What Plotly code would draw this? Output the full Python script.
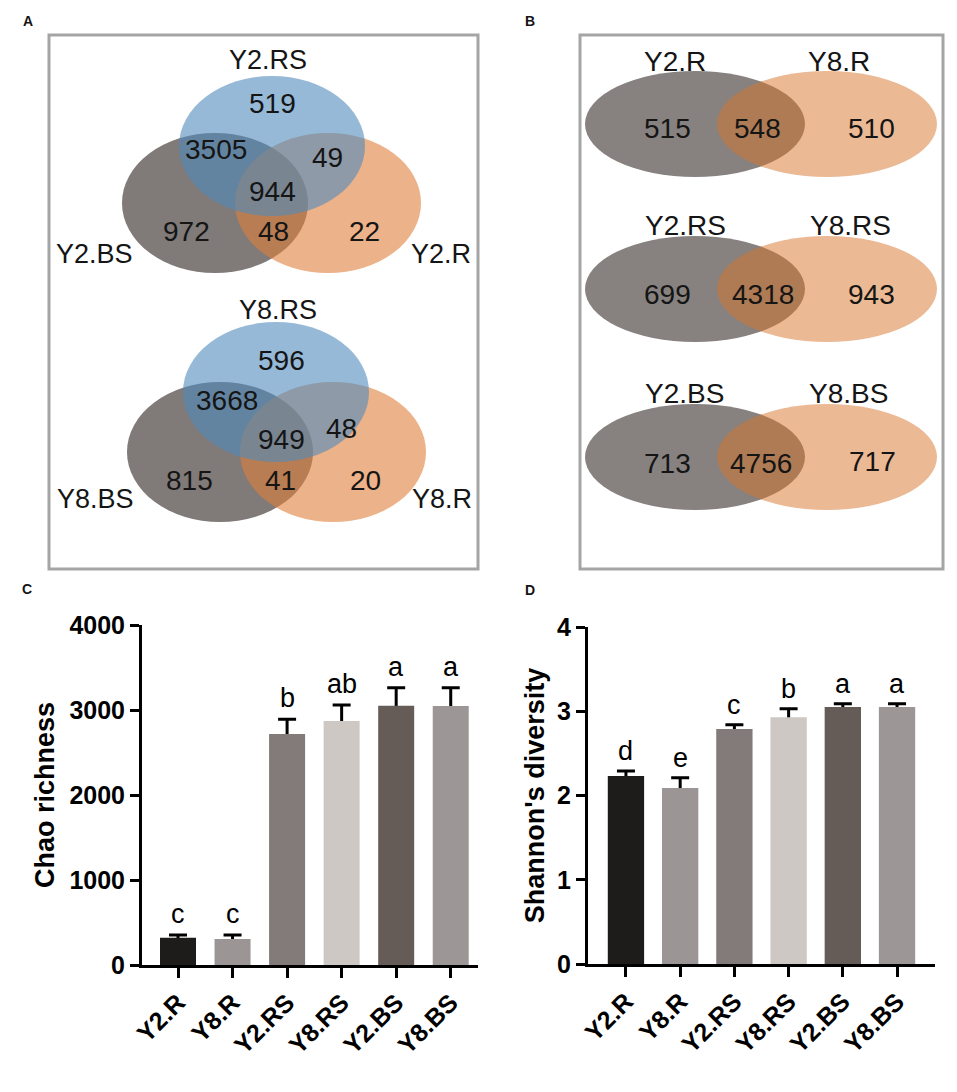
import plotly.graph_objects as go

# ---- data ----
groups = ["Y2.R", "Y8.R", "Y2.RS", "Y8.RS", "Y2.BS", "Y8.BS"]
chao_mean = [321, 306, 2718, 2871, 3051, 3047]
chao_err = [32, 47, 172, 188, 212, 215]
chao_letters = ["c", "c", "b", "ab", "a", "a"]
shannon_mean = [2.23, 2.09, 2.79, 2.93, 3.05, 3.05]
shannon_err = [0.06, 0.12, 0.05, 0.10, 0.04, 0.04]
shannon_letters = ["d", "e", "c", "b", "a", "a"]
bar_colors = ["#1e1c1a", "#9b9595", "#837b7a", "#cec8c5", "#655c58", "#9d9696"]

# panel A: 3-set venns, sets = RS (top), BS (left), R (right)
venn_a_sets = [["Y2.RS", "Y2.BS", "Y2.R"], ["Y8.RS", "Y8.BS", "Y8.R"]]
# regions: RS only, RS&BS, RS&R, all three, BS only, BS&R, R only
venn_a_counts = [[519, 3505, 49, 944, 972, 48, 22],
                 [596, 3668, 48, 949, 815, 41, 20]]

# panel B: 2-set venns, Y2 (left) vs Y8 (right)
venn_b_sets = [["Y2.R", "Y8.R"], ["Y2.RS", "Y8.RS"], ["Y2.BS", "Y8.BS"]]
venn_b_counts = [[515, 548, 510], [699, 4318, 943], [713, 4756, 717]]

# ---- venn layout (pixel positions on the page) ----
a_ellipses = [[(272, 146), (215, 203), (328, 203)],
              [(276, 392), (220, 452), (333, 452)]]
a_rx, a_ry = 93, 70
a_label_pos = [[(268, 57), (94, 251), (441, 251)],
               [(278, 307), (95, 496), (442, 496)]]
a_count_pos = [[(272, 100), (216, 146), (327, 154), (272, 188), (186, 228), (273, 228), (364, 228)],
               [(281, 357), (227, 397), (341, 425), (281, 436), (189, 477), (280, 477), (365, 477)]]

b_ellipses = [[(695, 124), (827, 124)], [(695, 289), (827, 289)], [(695, 457), (827, 457)]]
b_rx, b_ry = 110, 53
b_label_pos = [[(675, 58), (839, 58)], [(685, 222), (850, 222)], [(684, 390), (848, 390)]]
b_count_pos = [[(667, 125), (757, 125), (871, 125)],
               [(667, 291), (763, 291), (871, 291)],
               [(667, 460), (761, 460), (872, 458)]]

FONT = "Arial, Liberation Sans, sans-serif"
W, H = 957, 1092

fig = go.Figure()


def bars(y, err, width, xa, ya):
    # error bars drawn under an opaque copy of the bars so only the upper half shows
    fig.add_trace(go.Bar(
        x=groups, y=y, width=width, marker_color="rgba(0,0,0,0)", marker_line_width=0,
        error_y=dict(type="data", array=err, color="black", thickness=3, width=9),
        xaxis=xa, yaxis=ya, showlegend=False, hoverinfo="skip"))
    fig.add_trace(go.Bar(
        x=groups, y=y, width=width, marker_color=bar_colors, marker_line_width=0,
        xaxis=xa, yaxis=ya, showlegend=False))


bars(chao_mean, chao_err, 0.66, "x", "y")
bars(shannon_mean, shannon_err, 0.67, "x2", "y2")

annotations = []
for g, m, e, t in zip(groups, chao_mean, chao_err, chao_letters):
    annotations.append(dict(x=g, y=m + e, xref="x", yref="y", text=t, showarrow=False,
                            yanchor="bottom", yshift=4, font=dict(family=FONT, size=27, color="black")))
for g, m, e, t in zip(groups, shannon_mean, shannon_err, shannon_letters):
    annotations.append(dict(x=g, y=m + e, xref="x2", yref="y2", text=t, showarrow=False,
                            yanchor="bottom", yshift=3, font=dict(family=FONT, size=27, color="black")))

# venn shapes
shapes = []
fills_a = [("#508abc", 0.6), ("#807a79", 1.0), ("#df7f3a", 0.6)]
draw_order = [1, 2, 0]  # gray, orange, blue on top
for ell in a_ellipses:
    for k in draw_order:
        cx, cy = ell[k]
        col, op = fills_a[k]
        shapes.append(dict(type="circle", xref="x3", yref="y3", x0=cx - a_rx, x1=cx + a_rx,
                           y0=cy - a_ry, y1=cy + a_ry, fillcolor=col, opacity=op,
                           line=dict(width=0), layer="below"))
fills_b = [("#87827f", 1.0), ("#d7732a", 0.5)]
for ell in b_ellipses:
    for k in range(2):
        cx, cy = ell[k]
        col, op = fills_b[k]
        shapes.append(dict(type="circle", xref="x3", yref="y3", x0=cx - b_rx, x1=cx + b_rx,
                           y0=cy - b_ry, y1=cy + b_ry, fillcolor=col, opacity=op,
                           line=dict(width=0), layer="below"))

# panel frames
for x0, x1 in [(49, 478), (580, 943)]:
    shapes.append(dict(type="rect", xref="x3", yref="y3", x0=x0, x1=x1, y0=35, y1=569,
                       line=dict(color="#a5a5a5", width=3), fillcolor="rgba(0,0,0,0)", layer="above"))


def txt(x, y, s, size, bold=False, shift=-3):
    return dict(x=x, y=y, xref="x3", yref="y3", text=s, showarrow=False,
                xanchor="center", yanchor="middle", yshift=shift,
                font=dict(family=FONT, size=size, color="#151515",
                          weight="bold" if bold else "normal"))


for names, counts, lpos, cpos in zip(venn_a_sets, venn_a_counts, a_label_pos, a_count_pos):
    for n, (x, y) in zip(names, lpos):
        annotations.append(txt(x, y, n, 27))
    for c, (x, y) in zip(counts, cpos):
        annotations.append(txt(x, y, str(c), 28))

for names, counts, lpos, cpos in zip(venn_b_sets, venn_b_counts, b_label_pos, b_count_pos):
    for n, (x, y) in zip(names, lpos):
        annotations.append(txt(x, y, n, 28))
    for c, (x, y) in zip(counts, cpos):
        annotations.append(txt(x, y, str(c), 28))

for s, x, y in [("A", 28, 20), ("B", 530, 20), ("C", 27, 588), ("D", 530, 589)]:
    annotations.append(txt(x, y, s, 14, bold=True, shift=-1))

tick_font = dict(family=FONT, size=25, color="black", weight="bold")
xtick_font = dict(family=FONT, size=25, color="black", weight="bold")
title_font = dict(family=FONT, size=27, color="black", weight="bold")

common_x = dict(type="category", showline=True, linecolor="black", linewidth=3,
                ticks="outside", ticklen=10, tickwidth=3, tickcolor="black",
                tickangle=-45, tickfont=xtick_font, showgrid=False, zeroline=False,
                automargin=False)
common_y = dict(showline=True, linecolor="black", linewidth=3, ticks="outside",
                ticklen=9, tickwidth=3, tickcolor="black", tickfont=tick_font,
                showgrid=False, zeroline=False, automargin=False)

fig.update_layout(
    width=W, height=H,
    margin=dict(l=0, r=0, t=0, b=0, pad=0, autoexpand=False),
    paper_bgcolor="white", plot_bgcolor="rgba(0,0,0,0)",
    barmode="overlay",
    xaxis=dict(common_x, domain=[142 / W, 478 / W], range=[-0.66, 5.5], anchor="y"),
    yaxis=dict(common_y, domain=[1 - 965 / H, 1 - 625 / H], range=[0, 4000],
               tickvals=[0, 1000, 2000, 3000, 4000], anchor="x",
               title=dict(text="Chao richness", font=title_font, standoff=7)),
    xaxis2=dict(common_x, domain=[588 / W, 935 / W], range=[-0.7, 5.7], anchor="y2"),
    yaxis2=dict(common_y, domain=[1 - 964 / H, 1 - 627 / H], range=[0, 4],
                tickvals=[0, 1, 2, 3, 4], anchor="x2",
                title=dict(text="Shannon's diversity", font=title_font, standoff=5)),
    xaxis3=dict(domain=[0, 1], range=[0, W], visible=False, fixedrange=True,
                anchor="y3", automargin=False),
    yaxis3=dict(domain=[0, 1], range=[H, 0], visible=False, fixedrange=True,
                anchor="x3", automargin=False),
    shapes=shapes,
    annotations=annotations,
)

# drop the default page margin so the figure sits at the window's top-left corner
fig.write_html("out.html", config={"displayModeBar": False},
               post_script="document.body.style.margin = '0';")
